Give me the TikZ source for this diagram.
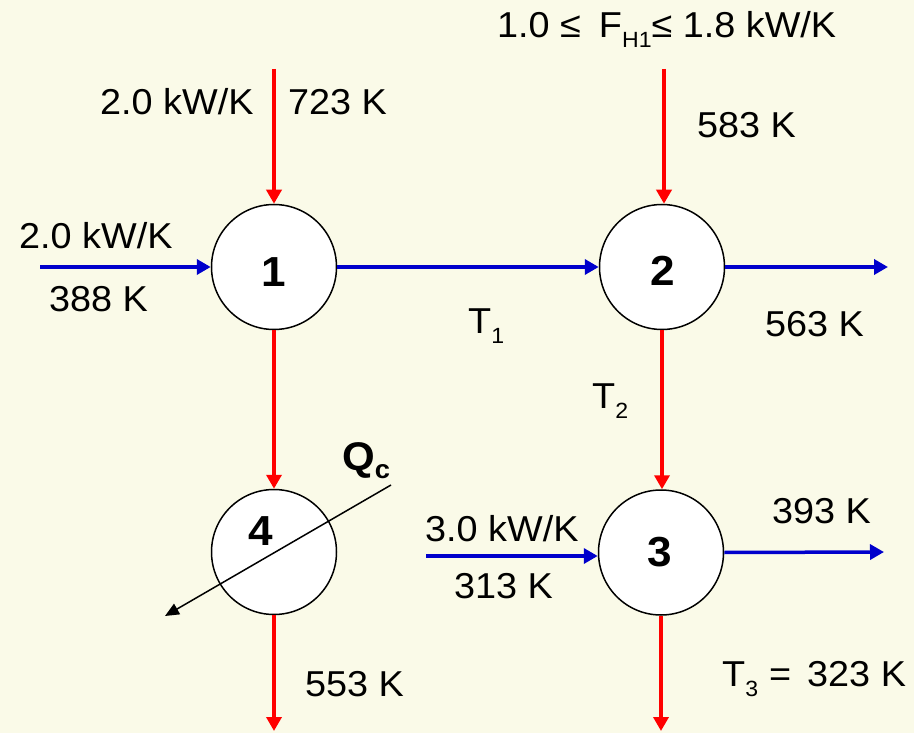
\documentclass[tikz,border=0pt]{standalone}
\usepackage{fontspec}
\setmainfont[FakeStretch=1.05]{Liberation Sans}
\usetikzlibrary{arrows.meta}
\definecolor{bg}{RGB}{250,250,232}
\definecolor{hotred}{RGB}{255,0,0}
\definecolor{coldblue}{RGB}{0,0,204}
\newcommand{\lowsub}[1]{\raisebox{-10pt}{\fontsize{22}{22}\selectfont #1}}
\begin{document}
\begin{tikzpicture}[x=1pt,y=-1pt,
  hx/.style={circle, draw=black, line width=1.5pt, fill=white, minimum size=125pt, inner sep=0pt},
  num/.style={anchor=base, inner sep=0pt, font=\fontsize{42}{42}\selectfont\bfseries},
  hot/.style={draw=hotred, line width=3.5pt, -{Triangle[length=14pt,width=15pt]}},
  cold/.style={draw=coldblue, line width=3.5pt, -{Triangle[length=14pt,width=15pt]}},
  qline/.style={draw=black, line width=1.5pt, -{Triangle[length=14pt,width=12pt]}},
  lbl/.style={anchor=base west, inner sep=0pt, font=\fontsize{36}{36}\selectfont}]
\fill[bg] (0,0) rectangle (914,733);
\useasboundingbox (0,0) rectangle (914,733);

% exchangers
\node[hx] (c1) at (274,267) {};
\node[hx] (c2) at (662,267) {};
\node[hx] (c3) at (661,552.5) {};
\node[hx] (c4) at (274,552) {};

% free ends
\coordinate (h1in) at (274,69);
\coordinate (h2in) at (664,69);
\coordinate (h1out) at (274,731);
\coordinate (h2out) at (661,731);
\coordinate (c1in) at (40,267);
\coordinate (c1out) at (888,267);
\coordinate (c2in) at (426,556);
\coordinate (c2out) at (884,552);
\coordinate (qs) at (391,485);
\coordinate (qe) at (165,616);

% hot streams
\draw[hot] (h1in) -- (c1.north);
\draw[hot] (c1.south) -- (c4.north);
\draw[hot] (c4.south) -- (h1out);
\draw[hot] (h2in) -- (h2in |- c2.north);
\draw[hot] (c2.south) -- (c2.south |- c3.north);
\draw[hot] (c3.south) -- (h2out);

% cold streams
\draw[cold] (c1in) -- (c1.west);
\draw[cold] (c1.east) -- (c2.west);
\draw[cold] (c2.east) -- (c1out);
\draw[cold] (c2in) -- (c2in -| c3.west);
\draw[cold] (c3.east) -- (c2out);

% cooler duty line
\draw[qline] (qs) -- (qe);

% numbers
\node[num] (n1) at (274,287) {1};
\node[num] (n2) at (662.5,285) {2};
\node[num] (n3) at (660,566) {3};
\node[num] (n4) at (260.5,545) {4};

% labels
\node[lbl] (l1) at (100,115) {2.0 kW/K};
\node[lbl] (l2) at (288,115) {723 K};
\node[lbl] (l3) at (497,38) {1.0 ≤\hspace{18pt}F\lowsub{H1}≤ 1.8 kW/K};
\node[lbl] (l4) at (697,138) {583 K};
\node[lbl] (l5) at (19,249) {2.0 kW/K};
\node[lbl] (l6) at (49,311) {388 K};
\node[lbl] (l7) at (468,333) {T\lowsub{1}};
\node[lbl] (l8) at (765,336) {563 K};
\node[lbl] (l9) at (592,408) {T\lowsub{2}};
\node[lbl, font=\fontsize{40}{40}\selectfont\bfseries] (l10) at (342,470) {Q\raisebox{-8pt}{\fontsize{26}{26}\selectfont\bfseries c}};
\node[lbl] (l11) at (425,541) {3.0 kW/K};
\node[lbl] (l12) at (454,598) {313 K};
\node[lbl] (l13) at (772,523) {393 K};
\node[lbl] (l14) at (305,696) {553 K};
\node[lbl] (l15) at (722,686) {T\lowsub{3}\hspace{11pt}=\hspace{16pt}323 K};
\end{tikzpicture}
\end{document}
